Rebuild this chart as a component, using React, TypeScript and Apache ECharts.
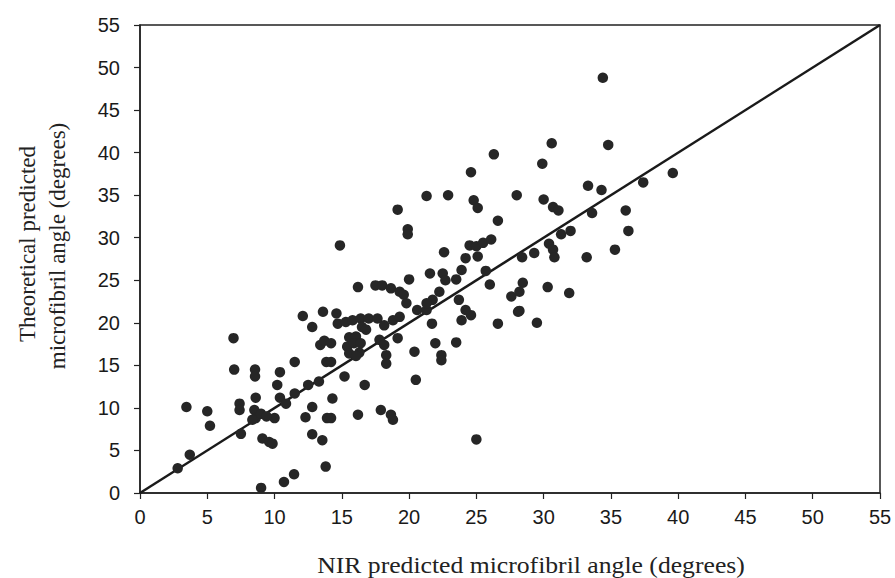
import React, { useEffect, useRef } from "react";
import * as echarts from "echarts";

const xName = "NIR predicted microfibril angle (degrees)";
const yNameLines = ["Theoretical predicted", "microfibril angle (degrees)"];
const tickValues = [0, 5, 10, 15, 20, 25, 30, 35, 40, 45, 50, 55];

// [NIR predicted, theoretical predicted]
const points: number[][] = [
  [2.8, 2.9], [3.7, 4.5], [3.45, 10.1], [5.0, 9.6], [5.2, 7.9], [6.95, 18.2], [7.0, 14.5],
  [7.4, 10.5], [7.4, 9.75], [7.5, 6.95], [8.55, 14.5], [8.55, 13.7], [8.6, 11.2], [8.5, 9.75],
  [8.6, 8.8], [8.35, 8.6], [9.0, 9.3], [9.1, 6.4], [9.6, 6.0], [9.85, 5.8], [9.0, 0.6],
  [10.7, 1.3], [11.45, 2.2], [10.4, 14.2], [10.2, 12.7], [10.4, 11.2], [10.85, 10.5],
  [10.0, 8.8], [9.4, 9.0],
  [11.5, 15.4], [11.5, 11.7], [12.5, 12.7], [13.3, 13.1], [12.8, 19.5], [12.1, 20.8],
  [13.6, 21.3], [13.4, 17.4], [13.7, 17.9], [13.85, 15.4], [12.8, 10.1], [12.3, 8.9],
  [13.9, 8.8], [12.8, 6.9], [13.55, 6.2], [13.8, 3.1],
  [14.6, 21.1], [14.7, 19.9], [15.3, 20.1], [15.8, 20.3], [16.4, 20.5], [17.0, 20.5],
  [16.5, 19.5], [16.8, 19.2], [15.55, 18.3], [16.05, 18.4], [15.4, 17.2], [15.55, 16.4],
  [15.9, 17.6], [16.3, 16.5], [16.4, 17.6], [16.05, 16.1], [14.2, 17.6], [14.2, 15.4],
  [15.2, 13.7], [16.7, 12.7], [14.3, 11.1], [14.2, 8.8], [16.2, 9.2], [17.9, 9.75],
  [18.65, 9.2], [18.8, 8.6], [25.0, 6.3],
  [17.8, 18.0], [18.15, 17.4], [18.3, 16.2], [18.3, 15.2], [17.65, 20.5], [18.15, 19.7],
  [18.8, 20.3], [19.3, 20.7], [19.15, 18.2], [20.4, 16.6], [20.5, 13.3], [20.6, 21.5],
  [21.3, 21.5], [21.7, 19.9], [21.95, 17.6], [22.4, 16.2], [22.4, 15.6], [23.5, 17.7],
  [23.9, 20.3], [24.6, 20.9], [24.2, 21.5], [26.6, 19.9], [28.1, 21.3],
  [26.3, 39.8], [24.6, 37.7], [21.3, 34.9], [22.9, 35.0], [24.8, 34.4], [25.1, 33.5],
  [19.15, 33.3], [28.0, 35.0], [26.6, 32.0], [19.9, 31.0], [19.9, 30.4], [14.86, 29.1],
  [22.6, 28.3], [24.5, 29.1], [25.0, 29.0], [25.5, 29.4], [26.1, 29.8], [24.2, 27.6],
  [25.1, 27.8], [23.9, 26.2], [25.7, 26.1], [26.0, 24.5], [21.55, 25.8], [22.5, 25.8],
  [22.7, 25.0], [23.5, 25.1], [20.0, 25.1], [16.2, 24.2], [17.5, 24.4], [18.0, 24.4],
  [18.65, 24.05], [19.3, 23.65], [19.6, 23.3], [19.8, 22.3], [22.25, 23.65], [21.75, 22.7],
  [21.3, 22.3], [23.7, 22.7], [27.6, 23.1],
  [34.4, 48.8], [30.6, 41.1], [34.8, 40.9], [29.9, 38.7], [33.3, 36.1], [34.3, 35.6],
  [37.4, 36.5], [39.6, 37.6], [30.0, 34.5], [30.7, 33.6], [31.1, 33.2], [33.6, 32.9],
  [36.1, 33.2], [32.0, 30.8], [31.3, 30.4], [36.3, 30.8], [30.4, 29.3], [30.7, 28.6],
  [30.8, 27.7], [29.3, 28.2], [28.4, 27.7], [33.2, 27.7], [35.3, 28.6], [28.45, 24.7],
  [28.2, 23.65], [30.3, 24.2], [31.9, 23.5], [28.2, 21.4], [29.5, 20.0],
];

const identityLine: number[][] = [[0, 0], [55, 55]];

export default function App() {
  const ref = useRef<HTMLDivElement>(null);
  useEffect(() => {
    if (!ref.current) return;
    const chart = echarts.init(ref.current, undefined, { renderer: "svg" });
    const axisCommon = {
      type: "value" as const,
      min: 0,
      max: 55,
      interval: 5,
      splitLine: { show: false },
      axisLine: { show: true, onZero: false, lineStyle: { color: "#222", width: 1.5 } },
      axisTick: { show: true, inside: false, length: 6, lineStyle: { color: "#222", width: 1.2 } },
    };
    const labelStyle = {
      fontFamily: "Liberation Sans",
      fontSize: 20,
      color: "#1a1a1a",
      formatter: (v: number) => (tickValues.includes(v) ? String(v) : ""),
    };
    chart.setOption({
      animation: false,
      backgroundColor: "#ffffff",
      grid: {
        left: 140,
        right: 15,
        top: 25,
        bottom: 85,
        show: true,
        borderColor: "#222",
        borderWidth: 1.5,
        backgroundColor: "transparent",
      },
      xAxis: { ...axisCommon, axisLabel: { ...labelStyle, margin: 14 } },
      yAxis: { ...axisCommon, axisLabel: { ...labelStyle, margin: 20 } },
      graphic: [
        {
          type: "text",
          x: 531,
          y: 565,
          scaleX: 1.07,
          style: {
            text: xName,
            fontFamily: "Liberation Serif",
            fontSize: 24,
            fill: "#222",
            textAlign: "center",
            textVerticalAlign: "middle",
          },
        },
        {
          type: "text",
          x: 27,
          y: 244,
          rotation: Math.PI / 2,
          style: {
            text: yNameLines[0],
            fontFamily: "Liberation Serif",
            fontSize: 23,
            fill: "#222",
            textAlign: "center",
            textVerticalAlign: "middle",
          },
        },
        {
          type: "text",
          x: 57,
          y: 246,
          rotation: Math.PI / 2,
          style: {
            text: yNameLines[1],
            fontFamily: "Liberation Serif",
            fontSize: 23,
            fill: "#222",
            textAlign: "center",
            textVerticalAlign: "middle",
          },
        },
      ],
      series: [
        {
          type: "line",
          data: identityLine,
          showSymbol: false,
          symbol: "none",
          lineStyle: { color: "#1a1a1a", width: 2.5 },
          z: 3,
        },
        {
          type: "scatter",
          data: points,
          symbol: "circle",
          symbolSize: 10.5,
          itemStyle: { color: "#262626", opacity: 1 },
          z: 4,
        },
      ],
    });
    return () => chart.dispose();
  }, []);
  return (
    <div
      ref={ref}
      style={{ position: "fixed", left: 0, top: 0, width: 895, height: 578 }}
    />
  );
}
